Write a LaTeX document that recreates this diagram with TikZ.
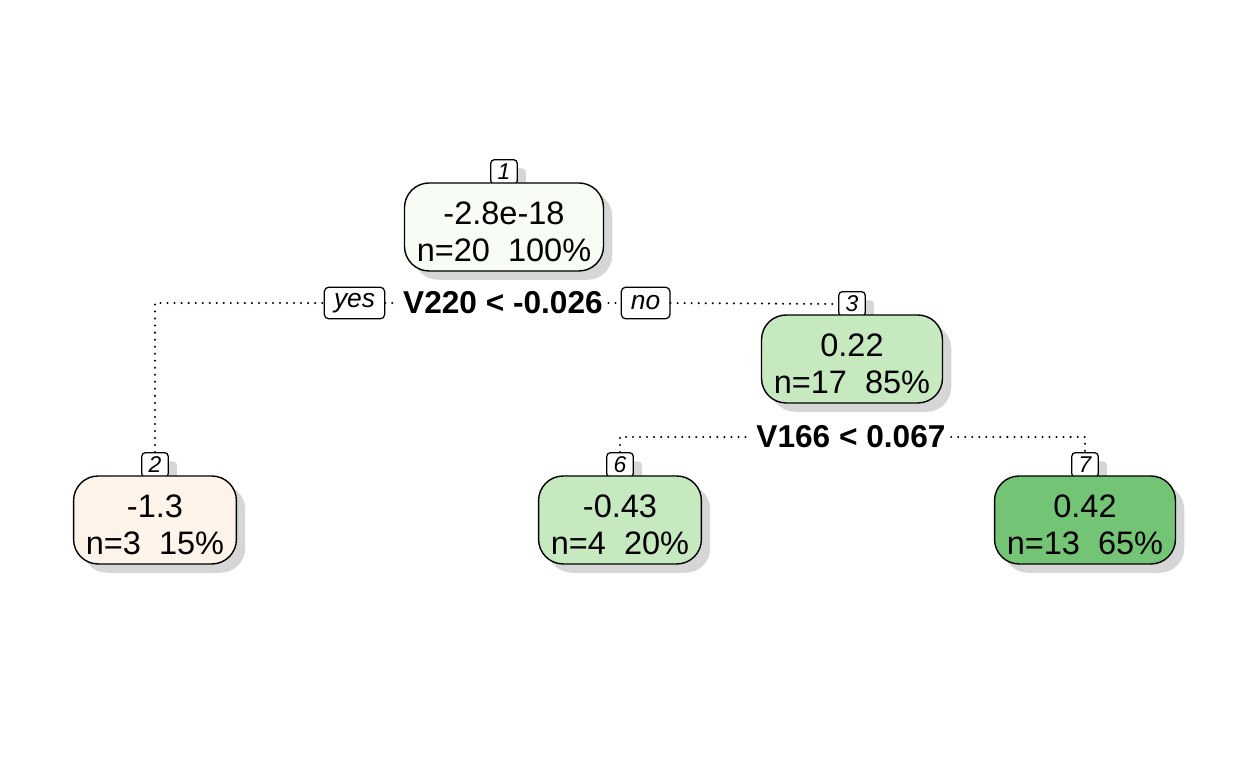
\documentclass[tikz,border=0pt]{standalone}
\usepackage{fontspec}
\setmainfont{Liberation Sans}
\usetikzlibrary{positioning,shadows}
\definecolor{rootgreen}{HTML}{F7FCF5}
\definecolor{midgreen}{HTML}{C7E9C0}
\definecolor{deepgreen}{HTML}{74C476}
\definecolor{paleorange}{HTML}{FEF3E8}
\newcommand{\shadowgray}{black!32}

\tikzset{
  leaf/.style={draw, line width=0.8pt, rounded corners=14pt, align=center,
    font=\fontsize{18.5}{21}\selectfont, inner xsep=7pt, minimum height=1.76cm,
    text height=39pt, text depth=0pt,
    drop shadow={shadow xshift=5pt, shadow yshift=-5pt, fill=\shadowgray}},
  nodenum/.style={draw, fill=white, line width=0.7pt, rounded corners=2pt,
    font=\fontsize{13}{13}\selectfont\itshape, minimum width=15pt,
    minimum height=14pt, inner sep=1pt,
    drop shadow={shadow xshift=5pt, shadow yshift=-5pt, fill=\shadowgray}},
  branch/.style={draw, fill=white, line width=0.7pt, rounded corners=2.5pt,
    font=\fontsize{15}{15}\selectfont\itshape, minimum height=18pt, inner xsep=5.5pt},
  splitlab/.style={fill=white, font=\fontsize{18}{18}\selectfont\bfseries,
    inner xsep=3pt, inner ysep=1pt},
  dotline/.style={line width=1.3pt, line cap=round, dash pattern=on 0pt off 4pt}
}

\begin{document}
\begin{tikzpicture}[x=0.02cm, y=-0.02cm]
  \useasboundingbox (0,0) rectangle (1248,768);
  % node numbers
  \node[nodenum] (l1) at (504,172) {1};
  \node[nodenum] (l3) at (852,304) {3};
  \node[nodenum] (l2) at (155,465) {2};
  \node[nodenum] (l6) at (620,465) {6};
  \node[nodenum] (l7) at (1085,465) {7};
  % boxes
  \node[leaf, fill=rootgreen, below=-1.5pt of l1] (n1) {-2.8e-18\\n=20\ \ 100\%};
  \node[leaf, fill=midgreen, below=-1.5pt of l3] (n3) {0.22\\n=17\ \ 85\%};
  \node[leaf, fill=paleorange, below=-1.5pt of l2] (n2) {-1.3\\n=3\ \ 15\%};
  \node[leaf, fill=midgreen, below=-1.5pt of l6] (n6) {-0.43\\n=4\ \ 20\%};
  \node[leaf, fill=deepgreen, below=-1.5pt of l7] (n7) {0.42\\n=13\ \ 65\%};
  % splits
  \node[splitlab] (s1) at (503,303) {V220 < -0.026};
  \node[branch, left=7pt of s1] (yes) {yes};
  \node[branch, right=7pt of s1] (no) {no};
  \node[splitlab] (s2) at (851,437) {V166 < 0.067};
  \draw[dotline] (l2.north) |- (yes.west);
  \draw[dotline] (yes.east) -- (s1.west);
  \draw[dotline] (s1.east) -- (no.west);
  \draw[dotline] (no.east) -- (l3.west);
  \draw[dotline] (l6.north) |- (s2.west);
  \draw[dotline] (s2.east) -| (l7.north);
\end{tikzpicture}
\end{document}
